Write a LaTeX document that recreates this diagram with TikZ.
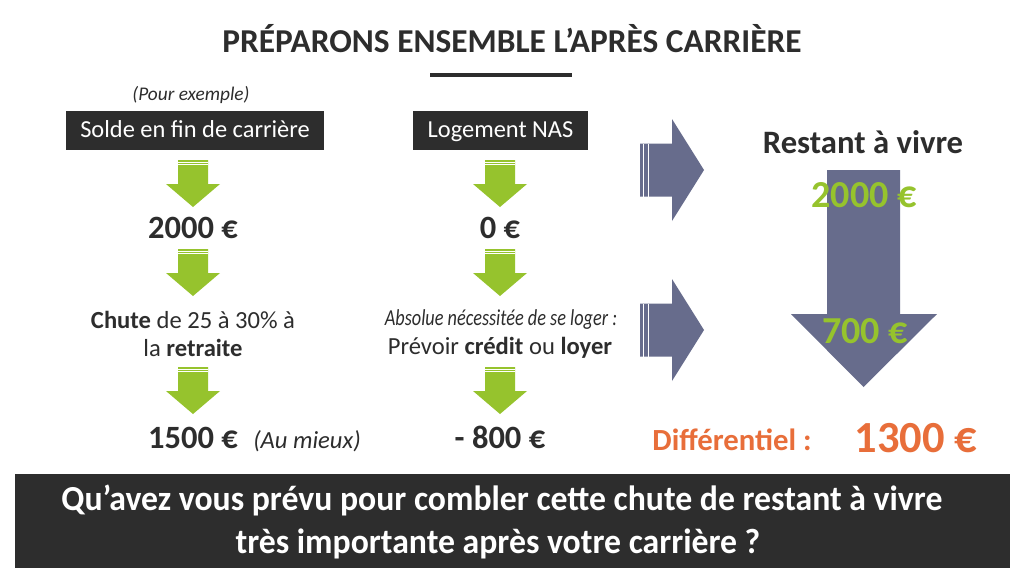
\documentclass[tikz,border=0pt]{standalone}
\usepackage{fontspec}
\setmainfont{Carlito}
\newfontfamily\narrowfont[FakeStretch=0.8]{Carlito}
\newfontfamily\bandfont[FakeStretch=0.96]{Carlito}
\usetikzlibrary{positioning}
\definecolor{ink}{RGB}{45,45,45}
\definecolor{leaf}{RGB}{150,195,45}
\definecolor{slate}{RGB}{103,108,140}
\definecolor{rust}{RGB}{232,110,58}
\tikzset{
  lbl/.style={text=ink,inner sep=0pt,anchor=base},
  darkbox/.style={fill=ink,text=white,font=\fontsize{13.9}{16}\selectfont,minimum height=0.78cm,inner sep=0pt,text height=9.5pt,text depth=1pt},
  greenarrow/.pic={
    \fill[leaf] (-15,0) -- (15,0) -- (15,24) -- (27,24) -- (0,47) -- (-27,24) -- (-15,24) -- cycle;
    \draw[white,line width=0.5pt] (-15,2) -- (15,2) (-15,4.5) -- (15,4.5);
  },
  bluearrow/.pic={
    \fill[slate] (0,-26.5) -- (32,-26.5) -- (32,-51) -- (64,0) -- (32,51) -- (32,26.5) -- (0,26.5) -- cycle;
    \draw[white,line width=0.8pt] (3.3,-26.5) -- (3.3,26.5) (8.3,-26.5) -- (8.3,26.5);
  },
}
\begin{document}
\begin{tikzpicture}[x=0.02cm,y=-0.02cm]
\useasboundingbox[fill=white] (0,0) rectangle (1024,586);
\node[lbl,font=\bfseries\fontsize{19}{21}\selectfont] (title) at (512,52) {PRÉPARONS ENSEMBLE L’APRÈS CARRIÈRE};
\draw[ink,line width=2.8pt] (430,75) -- (572,75);
\node[lbl,font=\itshape\fontsize{11}{13}\selectfont] (exemple) at (191,100) {(Pour exemple)};
\node[darkbox,minimum width=5.16cm] (solde) at (195,130.5) {Solde en fin de carrière};
\node[darkbox,minimum width=3.5cm] (nas) at (500.5,130.5) {Logement NAS};
\pic at (193,160) {greenarrow};
\pic at (500,160) {greenarrow};
\pic at (193,249) {greenarrow};
\pic at (500,249) {greenarrow};
\pic at (193,367) {greenarrow};
\pic at (500,367) {greenarrow};
\node[lbl,font=\bfseries\fontsize{18.5}{20}\selectfont] (soldeval) at (193,238) {2000 €};
\node[lbl,font=\bfseries\fontsize{18.5}{20}\selectfont] (nasval) at (500,238) {0 €};
\node[lbl,font=\fontsize{14}{16}\selectfont] (chute) at (193,328) {\textbf{Chute} de 25 à 30\% à};
\node[lbl,font=\fontsize{14}{16}\selectfont] (retraite) at (193,356) {la \textbf{retraite}};
\node[lbl,font=\narrowfont\itshape\fontsize{13}{15}\selectfont] (absolue) at (501,325) {Absolue nécessitée de se loger :};
\node[lbl,font=\fontsize{14}{16}\selectfont] (prevoir) at (500,354) {Prévoir \textbf{crédit} ou \textbf{loyer}};
\node[lbl,font=\bfseries\fontsize{18.5}{20}\selectfont] (mieux) at (193,448) {1500 €};
\node[lbl,font=\itshape\fontsize{14}{16}\selectfont] (aumieux) at (307,448) {(Au mieux)};
\node[lbl,font=\bfseries\fontsize{18.5}{20}\selectfont] (moins) at (500,448) {- 800 €};
\pic at (640,170) {bluearrow};
\pic at (640,330) {bluearrow};
\fill[slate] (827,170) -- (900,170) -- (900,314) -- (937,314) -- (863.5,387) -- (791,314) -- (827,314) -- cycle;
\node[lbl,font=\bfseries\fontsize{18.6}{20}\selectfont] (restant) at (863,153) {Restant à vivre};
\node[lbl,text=leaf,font=\bfseries\fontsize{21.7}{24}\selectfont] (haut) at (864,207) {2000 €};
\node[lbl,text=leaf,font=\bfseries\fontsize{21.7}{24}\selectfont] (bas) at (865,343) {700 €};
\node[lbl,text=rust,font=\bfseries\fontsize{17.5}{20}\selectfont] (diff) at (732,450) {Différentiel :};
\node[lbl,text=rust,font=\bfseries\fontsize{25.3}{28}\selectfont] (ecart) at (916,452) {1300 €};
\node[fill=ink,minimum width=19.9cm,minimum height=1.88cm,inner sep=0pt] (band) at (512.5,521) {};
\node[lbl,text=white,font=\bandfont\bfseries\fontsize{20}{24}\selectfont] (question) at (502,510) {Qu’avez vous prévu pour combler cette chute de restant à vivre};
\node[lbl,text=white,font=\bandfont\bfseries\fontsize{20}{24}\selectfont] (suite) at (498,553) {très importante après votre carrière ?};
\end{tikzpicture}
\end{document}
